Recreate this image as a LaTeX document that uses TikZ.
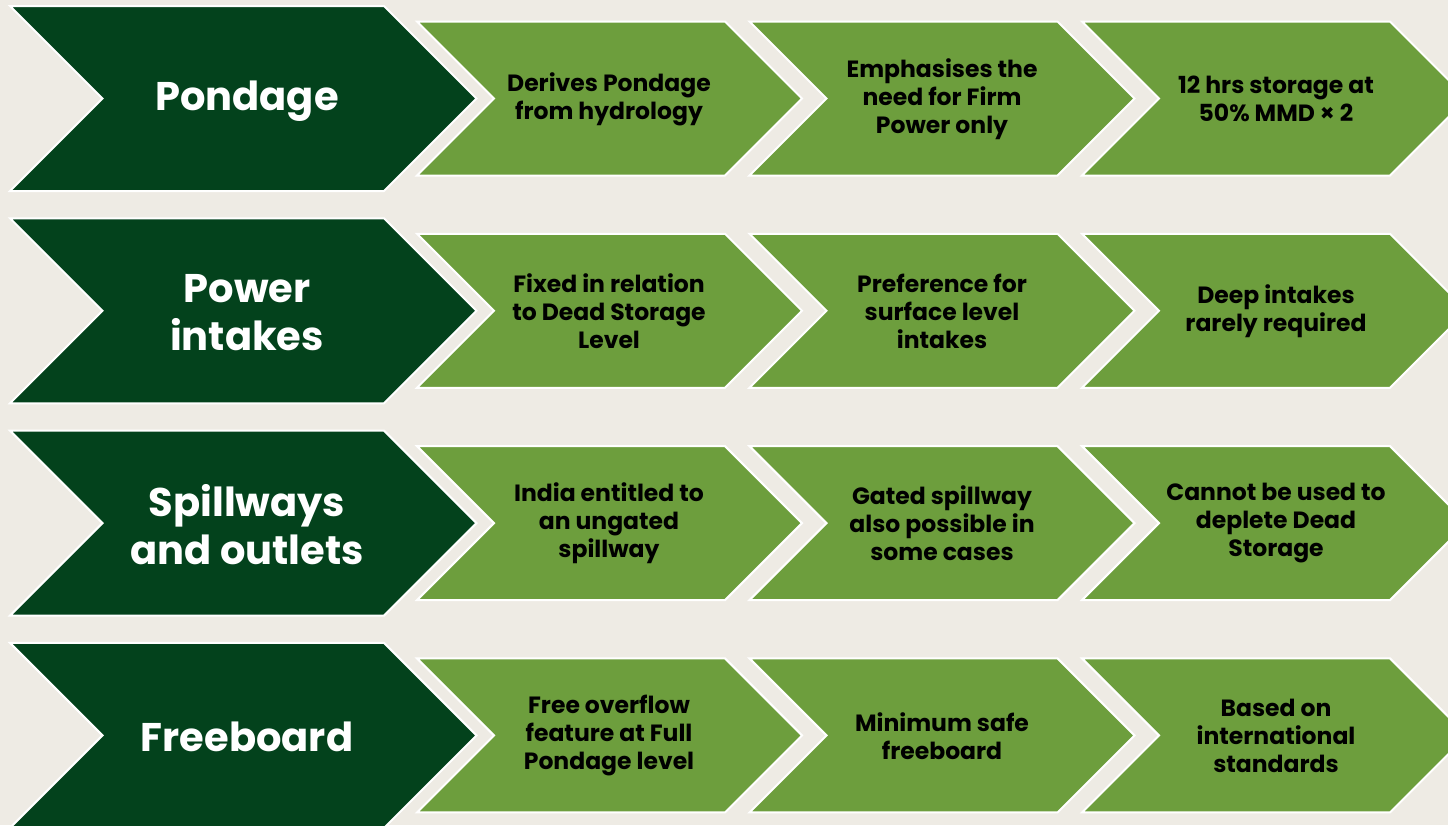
\documentclass[tikz,border=0pt]{standalone}
\usepackage{fontspec}
\setmainfont{Poppins}
\definecolor{bgc}{HTML}{EEEBE4}
\definecolor{darkg}{HTML}{03421C}
\definecolor{lightg}{HTML}{6D9E3D}
\begin{document}
\begin{tikzpicture}[x=1pt,y=-1pt,
  chevd/.style={fill=darkg,draw=white,line width=2pt,line join=miter},
  chevl/.style={fill=lightg,draw=white,line width=2pt,line join=miter},
  darktxt/.style={text=white,align=center,font=\fontsize{40}{48}\selectfont\bfseries},
  lighttxt/.style={text=black,align=center,font=\fontsize{23.5}{28}\selectfont\bfseries}]
\fill[bgc] (0,0) rectangle (1448,825);
\useasboundingbox (0,0) rectangle (1448,825);
\clip (0,0) rectangle (1448,825);
\foreach \r in {0,1,2,3}{
  \pgfmathsetmacro{\c}{98.5+212.3*\r}
  % dark chevron
  \path[chevd] (10,\c-92.5) -- (384,\c-92.5) -- (476.5,\c) -- (384,\c+92.5) -- (10,\c+92.5) -- (102.5,\c) -- cycle;
  \foreach \i in {0,1,2}{
    \pgfmathsetmacro{\L}{417+332.5*\i}
    \path[chevl] (\L,\c-77) -- (\L+308,\c-77) -- (\L+385,\c) -- (\L+308,\c+77) -- (\L,\c+77) -- (\L+77,\c) -- cycle;
  }
}
\node[darktxt] (h1) at (247,101) {Pondage};
\node[darktxt] (h2) at (247,313) {Power\\intakes};
\node[darktxt] (h3) at (247,525) {Spillways\\and outlets};
\node[darktxt] (h4) at (247,737) {Freeboard};

\node[lighttxt] (a1) at (609,99) {Derives Pondage\\from hydrology};
\node[lighttxt] (b1) at (942,99) {Emphasises the\\need for Firm\\Power only};
\node[lighttxt] (c1) at (1276,99) {12 hrs storage at\\50\% MMD × 2};

\node[lighttxt] (a2) at (609,311) {Fixed in relation\\to Dead Storage\\Level};
\node[lighttxt] (b2) at (942,311) {Preference for\\surface level\\intakes};
\node[lighttxt] (c2) at (1276,311) {Deep intakes\\rarely required};

\node[lighttxt] (a3) at (609,523) {India entitled to\\an ungated\\spillway};
\node[lighttxt] (b3) at (942,523) {Gated spillway\\also possible in\\some cases};
\node[lighttxt] (c3) at (1276,523) {Cannot be used to\\deplete Dead\\Storage};

\node[lighttxt] (a4) at (609,736) {Free overflow\\feature at Full\\Pondage level};
\node[lighttxt] (b4) at (942,736) {Minimum safe\\freeboard};
\node[lighttxt] (c4) at (1276,736) {Based on\\international\\standards};
\end{tikzpicture}
\end{document}
